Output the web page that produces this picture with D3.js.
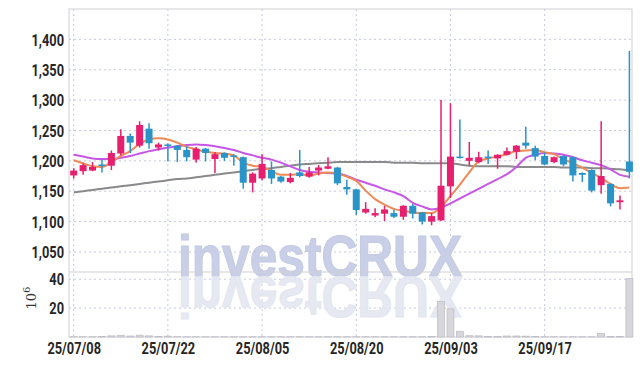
<!DOCTYPE html>
<html><head><meta charset="utf-8">
<script src="https://cdn.jsdelivr.net/npm/d3@7"></script>
<style>
html,body{margin:0;padding:0;background:#fff;}
svg{display:block;}
.tk{font-family:Roboto,'Liberation Sans',sans-serif;font-weight:bold;font-size:16px;fill:#262626;}
</style></head><body>
<svg id="c" width="643" height="366"></svg>
<script>
const dates = ["25/07/08","25/07/09","25/07/10","25/07/11","25/07/14","25/07/15","25/07/16","25/07/17","25/07/18","25/07/21",
"25/07/22","25/07/23","25/07/24","25/07/25","25/07/28","25/07/29","25/07/30","25/07/31","25/08/01","25/08/04",
"25/08/05","25/08/06","25/08/07","25/08/08","25/08/11","25/08/12","25/08/13","25/08/14","25/08/18","25/08/19",
"25/08/20","25/08/21","25/08/22","25/08/25","25/08/26","25/08/27","25/08/28","25/08/29","25/09/01","25/09/02",
"25/09/03","25/09/04","25/09/05","25/09/08","25/09/09","25/09/10","25/09/11","25/09/12","25/09/15","25/09/16",
"25/09/17","25/09/18","25/09/19","25/09/22","25/09/23","25/09/24","25/09/25","25/09/26","25/09/29","25/09/30"];
const open  = [1176,1183,1184,1194,1192,1212,1241,1225,1253,1222,1227,1225,1218,1202,1220,1203,1213,1209,1206,1164,
1171,1185,1174,1165,1181,1174,1184,1187,1189,1157,1153,1115,1110,1113,1114,1108,1126,1115,1100,1102,
1158,1207,1200,1198,1207,1204,1210,1215,1230,1221,1208,1198,1208,1206,1180,1185,1160,1162,1132,1199];
const high  = [1188,1196,1198,1202,1217,1252,1245,1265,1262,1230,1229,1226,1224,1223,1221,1214,1214,1211,1207,1181,
1211,1199,1175,1180,1218,1190,1193,1206,1190,1169,1154,1132,1122,1126,1120,1127,1129,1116,1114,1300,
1295,1268,1231,1215,1217,1211,1222,1226,1256,1225,1214,1207,1209,1207,1181,1186,1265,1163,1143,1381];
const low   = [1171,1177,1183,1181,1185,1209,1213,1222,1220,1217,1199,1198,1199,1197,1199,1180,1200,1192,1154,1148,
1168,1162,1164,1163,1173,1172,1176,1186,1160,1144,1111,1113,1107,1101,1106,1103,1105,1095,1094,1101,
1139,1204,1192,1196,1195,1187,1209,1203,1220,1201,1193,1196,1191,1166,1165,1148,1146,1125,1120,1171];
const close = [1184,1193,1190,1192,1213,1241,1230,1259,1229,1227,1225,1218,1206,1220,1213,1211,1205,1208,1164,1179,
1195,1171,1166,1172,1175,1181,1189,1191,1163,1153,1119,1121,1114,1120,1108,1126,1113,1100,1109,1159,
1207,1205,1205,1206,1205,1210,1216,1225,1225,1207,1194,1206,1194,1176,1177,1151,1175,1130,1135,1182];
const volume = [0.2,0.2,0.2,0.3,0.8,1.2,0.7,1.3,0.8,0.3,0.6,0.2,0.2,0.2,0.2,0.2,0.2,0.2,0.2,0.2,
0.2,0.2,0.2,0.2,0.2,0.2,0.2,0.2,0.2,0.2,0.2,0.2,0.2,0.2,0.2,0.2,0.2,0.2,0.3,24.5,
19.5,4.0,0.9,0.8,0.3,0.3,0.7,0.7,0.6,0.3,0.2,0.2,0.2,0.2,0.2,0.2,2.5,0.3,0.3,40.5];
const ma5 = [1201,1196,1191,1190,1198,1208,1216,1228,1235,1237,1235,1230,1223,1219,1215,1213,1212,1209,1197,1192,
1190,1183,1177,1177,1178,1176,1179,1181,1179,1174,1167,1151,1137,1128,1121,1118,1115,1114,1114,1124,
1142,1161,1181,1199,1204,1207,1211,1216,1217,1218,1214,1211,1203,1196,1189,1180,1172,1162,1155,1156];
const ma20 = [1210,1207,1204,1203,1203,1205,1208,1212,1216,1219,1222,1224,1226,1227,1226,1224,1221,1218,1213,1209,
1205,1202,1197,1191,1185,1182,1181,1180,1179,1175,1169,1164,1159,1153,1148,1142,1131,1125,1120,1123,
1130,1138,1146,1154,1162,1170,1178,1190,1205,1210,1213,1212,1210,1206,1201,1197,1193,1186,1177,1174];
const ma60 = [1148,1150,1152,1154,1156,1158,1160,1162,1164,1166,1168,1170,1171,1173,1175,1177,1179,1181,1183,1185,
1187,1188,1190,1192,1194,1195,1196,1197,1198,1198,1198,1198,1198,1198,1197,1197,1197,1196,1196,1196,
1196,1194,1192,1191,1191,1191,1191,1190,1190,1190,1190,1190,1189,1189,1189,1188,1188,1187,1186,1184];
const priceTicks = [1050,1100,1150,1200,1250,1300,1350,1400];
const volTicks = [20,40];
const dateTicks = ["25/07/08","25/07/22","25/08/05","25/08/20","25/09/03","25/09/17"];

const L=69,R=632,T=9,MB=272,VB=337;
const svg=d3.select("#c");
const x=d3.scalePoint().domain(dates).range([73.7,629.4]);
const y=d3.scaleLinear().domain([1017,1450]).range([MB,T]);
const yv=d3.scaleLinear().domain([0,45]).range([VB,MB]);
const gridC="#c5c9df";

// grid
const g=svg.append("g");
g.selectAll(".hg").data(priceTicks).join("line").attr("x1",L).attr("x2",R)
 .attr("y1",d=>y(d)).attr("y2",d=>y(d)).attr("stroke",gridC).attr("stroke-dasharray","2,3");
g.selectAll(".hv").data(volTicks).join("line").attr("x1",L).attr("x2",R)
 .attr("y1",d=>yv(d)).attr("y2",d=>yv(d)).attr("stroke",gridC).attr("stroke-dasharray","2,3");
g.selectAll(".vg").data(dateTicks).join("line").attr("x1",d=>x(d)).attr("x2",d=>x(d))
 .attr("y1",T).attr("y2",VB).attr("stroke",gridC).attr("stroke-dasharray","2,3");

// watermark
const wm=svg.append("g").style("font-family","'Liberation Sans',Arial,sans-serif").style("font-weight","bold").style("font-size","58px");
wm.append("text").attr("x",178).attr("y",276).attr("textLength",284).attr("lengthAdjust","spacingAndGlyphs")
 .attr("fill","#c3cae3").attr("stroke","#c3cae3").attr("stroke-width",1.2).attr("fill-opacity",0.9).text("investCRUX");
wm.append("text").attr("x",178).attr("y",-277).attr("transform","scale(1,-1)").attr("textLength",284).attr("lengthAdjust","spacingAndGlyphs")
 .attr("fill","#e3e6f0").attr("stroke","#e3e6f0").attr("stroke-width",1.2).attr("fill-opacity",0.9).text("investCRUX");

// frame
svg.append("rect").attr("x",L).attr("y",T).attr("width",R-L).attr("height",VB-T).attr("fill","none").attr("stroke","#cfcfd6");
svg.append("line").attr("x1",L).attr("x2",R).attr("y1",MB).attr("y2",MB).attr("stroke","#cfcfd6");

// volume
svg.append("g").selectAll("rect").data(dates).join("rect")
 .attr("x",d=>x(d)-3.5).attr("width",7)
 .attr("y",(d,i)=>yv(volume[i])).attr("height",(d,i)=>VB-yv(volume[i]))
 .attr("fill","#d6d6db").attr("stroke","#bdbdc4").attr("stroke-width",0.7);

// MA lines
const mkLine=arr=>d3.line().x((d,i)=>x(dates[i])).y(d=>y(d)).curve(d3.curveMonotoneX)(arr);
svg.append("path").attr("d",mkLine(ma60)).attr("fill","none").attr("stroke","#8a8a8a").attr("stroke-width",2);
svg.append("path").attr("d",mkLine(ma20)).attr("fill","none").attr("stroke","#c657e6").attr("stroke-width",2);
svg.append("path").attr("d",mkLine(ma5)).attr("fill","none").attr("stroke","#ee8a55").attr("stroke-width",2);

// candles
const up="#e61f6e",dn="#2a93c8";
const cg=svg.append("g").selectAll("g").data(dates).join("g");
cg.append("line").attr("x1",d=>x(d)).attr("x2",d=>x(d))
 .attr("y1",(d,i)=>y(high[i])).attr("y2",(d,i)=>y(low[i]))
 .attr("stroke",(d,i)=>close[i]>=open[i]?up:dn).attr("stroke-width",1.5);
cg.append("rect").attr("x",d=>x(d)-3.5).attr("width",7)
 .attr("y",(d,i)=>y(Math.max(open[i],close[i])))
 .attr("height",(d,i)=>Math.max(1.5,Math.abs(y(open[i])-y(close[i]))))
 .attr("fill",(d,i)=>close[i]>=open[i]?up:dn);

// axes
function squeeze(sel,f){sel.each(function(){const w=this.getComputedTextLength();d3.select(this).attr("textLength",w*f).attr("lengthAdjust","spacingAndGlyphs");});}
const ya=svg.append("g").attr("transform",`translate(${L-5},0)`)
 .call(d3.axisLeft(y).tickValues(priceTicks).tickSize(0).tickPadding(0).tickFormat(d3.format(",")));
ya.select(".domain").remove();
ya.selectAll("text").attr("class","tk").attr("dy","0.36em").call(squeeze,0.8);
const va=svg.append("g").attr("transform",`translate(${L-5},0)`)
 .call(d3.axisLeft(yv).tickValues(volTicks).tickSize(0).tickPadding(0));
va.select(".domain").remove();
va.selectAll("text").attr("class","tk").attr("dy","0.36em").call(squeeze,0.8);
const xa=svg.append("g").attr("transform",`translate(0,${VB})`)
 .call(d3.axisBottom(x).tickValues(dateTicks).tickSize(0).tickPadding(5));
xa.select(".domain").remove();
xa.selectAll("text").attr("class","tk").attr("dy","0.75em").call(squeeze,0.8);

// unit label
const ul=svg.append("text").attr("transform","translate(36,298) rotate(-90)").attr("text-anchor","middle")
 .style("font-family","'DejaVu Serif',serif").style("font-size","13px").attr("fill","#333");
ul.append("tspan").text("10");
ul.append("tspan").attr("dy","-6").style("font-size","10px").text("6");
</script>
</body></html>
